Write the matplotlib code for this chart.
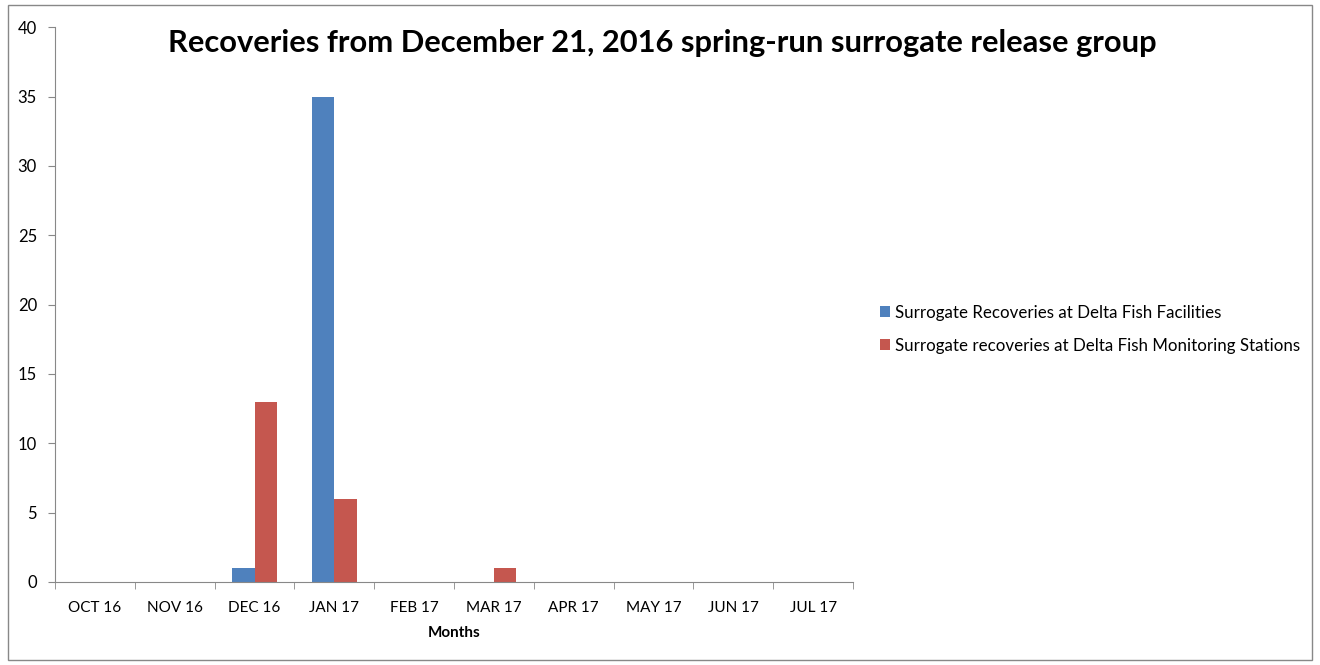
import matplotlib.pyplot as plt
import numpy as np
from matplotlib.patches import Rectangle

months = ['OCT 16', 'NOV 16', 'DEC 16', 'JAN 17', 'FEB 17',
          'MAR 17', 'APR 17', 'MAY 17', 'JUN 17', 'JUL 17']
facilities = [0, 0, 1, 35, 0, 0, 0, 0, 0, 0]
stations = [0, 0, 13, 6, 0, 1, 0, 0, 0, 0]
series_names = ['Surrogate Recoveries at Delta Fish Facilities',
                'Surrogate recoveries at Delta Fish Monitoring Stations']

plt.rcParams['font.family'] = ['Lato', 'DejaVu Sans']

fig = plt.figure(figsize=(13.2, 6.65), dpi=100)
ax = fig.add_axes([0.0417, 0.125, 0.6045, 0.834])

x = np.arange(len(months))
w = 0.28
ax.bar(x - w / 2, facilities, w, color='#4f81bd', label=series_names[0])
ax.bar(x + w / 2, stations, w, color='#c5574f', label=series_names[1])

ax.set_xlim(-0.5, len(months) - 0.5)
ax.set_ylim(0, 40)
ax.set_yticks(range(0, 41, 5))
ax.set_xticks(x)
ax.set_xticklabels(months, fontsize=11)
ax.set_xticks(np.arange(-0.5, len(months), 1), minor=True)
ax.tick_params(axis='x', which='major', length=0, pad=14)
ax.tick_params(axis='x', which='minor', length=5, color='#888888', direction='out')
ax.tick_params(axis='y', length=5, color='#888888', labelsize=12, pad=8)
for s in ['top', 'right']:
    ax.spines[s].set_visible(False)
for s in ['left', 'bottom']:
    ax.spines[s].set_color('#888888')
ax.set_xlabel('Months', fontsize=11, fontweight='bold', labelpad=8)

fig.text(0.502, 0.935, 'Recoveries from December 21, 2016 spring-run surrogate release group',
         ha='center', va='center', fontsize=22.2, fontweight='bold')

fig.legend(loc='center left', bbox_to_anchor=(0.655, 0.505), frameon=False,
           fontsize=12.2, handlelength=0.6, handleheight=0.6, handletextpad=0.3,
           labelspacing=1.0)

fig.patches.append(Rectangle((0.006, 0.008), 0.988, 0.985, transform=fig.transFigure,
                             fill=False, edgecolor='#888888', linewidth=1))

fig.savefig('out.png', dpi=100)
